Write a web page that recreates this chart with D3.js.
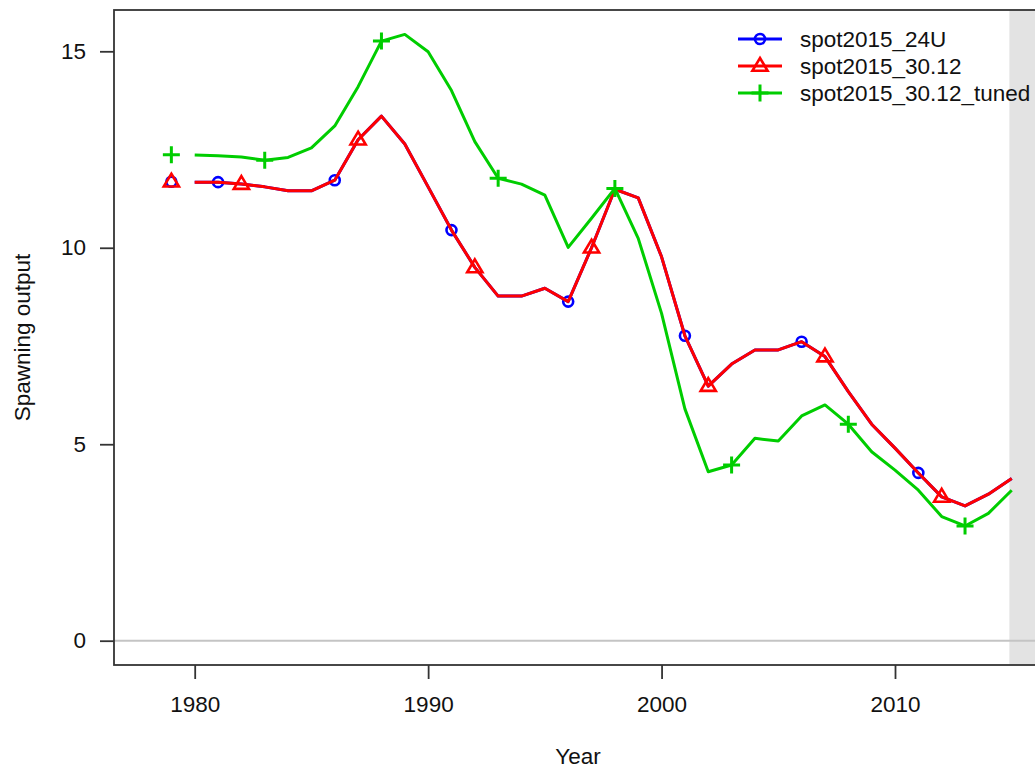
<!DOCTYPE html>
<html><head><meta charset="utf-8">
<script src="https://cdn.jsdelivr.net/npm/d3@7"></script>
<style>body{margin:0;background:#fff;}svg{display:block;font-family:"Liberation Sans",Arial,sans-serif;}</style>
</head><body>
<svg id="chart" width="1035" height="769"></svg>
<script>
const years = d3.range(1980, 2016);
const virginYear = 1979;
const seriesNames = ["spot2015_24U", "spot2015_30.12", "spot2015_30.12_tuned"];
const seriesColors = ["#0000FF", "#FF0000", "#00CD00"];
const seriesShapes = ["circle", "triangle", "plus"];
const markerOffsets = [1981, 1982, 1983];
const virginValues = [11.68, 11.68, 12.37];
const values24U = [11.67,11.67,11.62,11.55,11.45,11.45,11.72,12.75,13.35,12.64,11.55,10.45,9.5,8.77,8.77,8.97,8.63,10.0,11.49,11.27,9.77,7.76,6.48,7.04,7.4,7.4,7.61,7.23,6.34,5.51,4.9,4.27,3.66,3.43,3.73,4.13];
const values3012 = [11.67,11.67,11.62,11.55,11.45,11.45,11.72,12.75,13.35,12.64,11.55,10.45,9.5,8.77,8.77,8.97,8.63,10.0,11.49,11.27,9.77,7.76,6.48,7.04,7.4,7.4,7.61,7.23,6.34,5.51,4.9,4.27,3.66,3.43,3.73,4.13];
const valuesTuned = [12.36,12.34,12.31,12.23,12.3,12.54,13.1,14.1,15.26,15.43,14.99,14.0,12.7,11.77,11.62,11.34,10.01,10.75,11.51,10.24,8.33,5.9,4.3,4.47,5.15,5.08,5.72,6.0,5.51,4.81,4.34,3.83,3.16,2.92,3.24,3.83];
const xTicks = [1980, 1990, 2000, 2010];
const yTicks = [0, 5, 10, 15];
const forecastStart = 2014.9;

const allValues = [values24U, values3012, valuesTuned];
const svg = d3.select("#chart");
const box = {left:114, top:10, right:1042, bottom:665};
const x = d3.scaleLinear().domain([1980, 2010]).range([194.7, 895]);
const y = d3.scaleLinear().domain([0, 15]).range([640.7, 51.3]);
const fontSize = 22.5;

// forecast shading
svg.append("rect").attr("x", x(forecastStart)).attr("y", box.top)
  .attr("width", box.right - x(forecastStart)).attr("height", box.bottom - box.top)
  .attr("fill", "#e3e3e3");

// zero line
svg.append("line").attr("x1", box.left).attr("x2", box.right)
  .attr("y1", y(0)).attr("y2", y(0)).attr("stroke", "#c4c4c4").attr("stroke-width", 2);

// box
svg.append("rect").attr("x", box.left).attr("y", box.top)
  .attr("width", box.right - box.left).attr("height", box.bottom - box.top)
  .attr("fill", "none").attr("stroke", "#333").attr("stroke-width", 1.8);

// axes
const gx = svg.append("g").attr("transform", `translate(0,${box.bottom})`)
  .call(d3.axisBottom(x).tickValues(xTicks).tickFormat(d3.format("d")).tickSize(14).tickPadding(17));
const gy = svg.append("g").attr("transform", `translate(${box.left},0)`)
  .call(d3.axisLeft(y).tickValues(yTicks).tickSize(14).tickPadding(14));
[gx, gy].forEach(g => {
  g.select(".domain").remove();
  g.selectAll(".tick line").attr("stroke", "#333").attr("stroke-width", 1.8);
  g.selectAll(".tick text").attr("font-size", fontSize).attr("fill", "#111")
    .attr("font-family", "Liberation Sans, Arial, sans-serif");
});

svg.append("text").attr("x", 578).attr("y", 764).attr("text-anchor", "middle")
  .attr("font-size", fontSize).attr("fill", "#111").text("Year");
svg.append("text").attr("transform", `translate(30,${(box.top+box.bottom)/2}) rotate(-90)`)
  .attr("text-anchor", "middle").attr("font-size", fontSize).attr("fill", "#111").text("Spawning output");

function drawMarker(g, shape, cx, cy, color) {
  if (shape === "circle") {
    g.append("circle").attr("cx", cx).attr("cy", cy).attr("r", 5)
      .attr("fill", "none").attr("stroke", color).attr("stroke-width", 2.6);
  } else if (shape === "triangle") {
    const s = 8;
    g.append("path").attr("d", `M${cx},${cy - s} L${cx + s * 0.95},${cy + s * 0.6} L${cx - s * 0.95},${cy + s * 0.6} Z`)
      .attr("fill", "none").attr("stroke", color).attr("stroke-width", 2.6);
  } else {
    const s = 8.5;
    g.append("path").attr("d", `M${cx - s},${cy} H${cx + s} M${cx},${cy - s} V${cy + s}`)
      .attr("fill", "none").attr("stroke", color).attr("stroke-width", 3);
  }
}

const line = d3.line().x((d, i) => x(years[i])).y(d => y(d));
allValues.forEach((vals, k) => {
  const g = svg.append("g");
  g.append("path").attr("d", line(vals)).attr("fill", "none")
    .attr("stroke", seriesColors[k]).attr("stroke-width", 3).attr("stroke-linejoin", "round");
  drawMarker(g, seriesShapes[k], x(virginYear), y(virginValues[k]), seriesColors[k]);
  years.forEach((yr, i) => {
    if (yr >= markerOffsets[k] && (yr - markerOffsets[k]) % 5 === 0) {
      drawMarker(g, seriesShapes[k], x(yr), y(vals[i]), seriesColors[k]);
    }
  });
});

// legend
const legY = [39, 66, 93];
seriesNames.forEach((name, k) => {
  const g = svg.append("g");
  g.append("line").attr("x1", 738).attr("x2", 782).attr("y1", legY[k]).attr("y2", legY[k])
    .attr("stroke", seriesColors[k]).attr("stroke-width", 3);
  drawMarker(g, seriesShapes[k], 760, legY[k], seriesColors[k]);
  g.append("text").attr("x", 800).attr("y", legY[k]).attr("dy", "0.36em")
    .attr("font-size", fontSize).attr("fill", "#111").text(name);
});
</script>
</body></html>
